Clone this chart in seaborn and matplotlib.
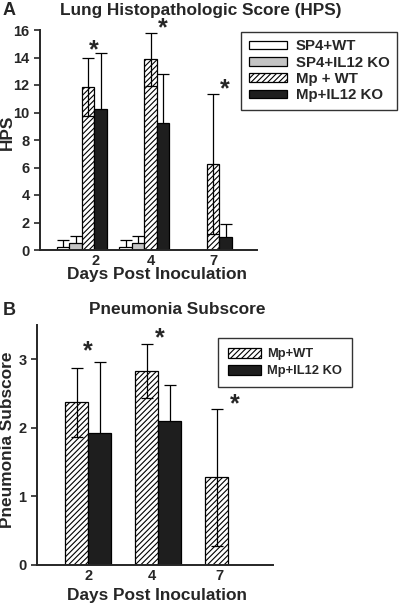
import numpy as np
import pandas as pd
import matplotlib
matplotlib.use("Agg")
import matplotlib.pyplot as plt
from matplotlib.patches import Patch
import seaborn as sns

# data
days = ["2", "4", "7"]

# panel A - lung histopathologic score
groups_a = ["SP4+WT", "SP4+IL12 KO", "Mp + WT", "Mp+IL12 KO"]
sp4_wt = [0.2, 0.2, 0.0]
sp4_wt_err = [0.55, 0.55, 0.0]
sp4_ko = [0.5, 0.5, 0.0]
sp4_ko_err = [0.55, 0.55, 0.0]
mp_wt = [11.85, 13.87, 6.23]
mp_wt_err = [2.1, 1.94, 5.1]
mp_ko = [10.23, 9.21, 0.97]
mp_ko_err = [4.07, 3.57, 0.93]
stars_a = [14.5, 16.1, 11.7]

# panel B - pneumonia subscore
groups_b = ["Mp+WT", "Mp+IL12 KO"]
pn_wt = [2.37, 2.83, 1.28]
pn_wt_err = [0.5, 0.4, 1.0]
pn_ko = [1.92, 2.10, 0.0]
pn_ko_err = [1.04, 0.52, 0.0]
stars_b = [3.12, 3.30, 2.35]

sns.set_style("ticks")
plt.rcParams["font.family"] = ["Liberation Sans", "DejaVu Sans"]
plt.rcParams["font.weight"] = "bold"
plt.rcParams["hatch.linewidth"] = 0.8

# err_top: error bar drawn over the bar (hatched) or hidden behind it (solid)
styles_a = [dict(facecolor="white", hatch=None, err_top=False),
            dict(facecolor="#c4c4c4", hatch=None, err_top=False),
            dict(facecolor="white", hatch="//////", err_top=True),
            dict(facecolor="#1e1e1e", hatch=None, err_top=False)]
styles_b = [styles_a[2], styles_a[3]]


def long_df(groups, values, errs):
    rows = []
    for g, v, e in zip(groups, values, errs):
        for d, vv, ee in zip(days, v, e):
            rows.append({"day": d, "group": g, "value": vv, "err": ee})
    return pd.DataFrame(rows)


def draw(ax, df, groups, styles, width):
    sns.barplot(data=df, x="day", y="value", hue="group", hue_order=groups,
                order=days, errorbar=None, width=width, ax=ax, legend=False,
                edgecolor="black", linewidth=0.9)
    for cont, g, st in zip(ax.containers, groups, styles):
        sub = df[df["group"] == g].set_index("day").loc[days]
        xs = []
        for p in cont.patches:
            p.set_facecolor(st["facecolor"])
            p.set_edgecolor("black")
            p.set_zorder(2)
            if st["hatch"]:
                p.set_hatch(st["hatch"])
            xs.append(p.get_x() + p.get_width() / 2)
        xs = np.array(xs)
        vals = sub["value"].values
        errs = sub["err"].values
        keep = errs > 0
        ax.errorbar(xs[keep], vals[keep], yerr=errs[keep], fmt="none",
                    ecolor="black", elinewidth=0.9, capsize=4, capthick=0.9,
                    zorder=3 if st["err_top"] else 1)
    sns.despine(ax=ax)
    for s in ["left", "bottom"]:
        ax.spines[s].set_linewidth(1.4)
        ax.spines[s].set_zorder(4)
    ax.tick_params(axis="x", length=0, labelsize=10.5, pad=3)
    ax.tick_params(axis="y", length=4, width=1.2, labelsize=10.5)
    for lab in ax.get_xticklabels() + ax.get_yticklabels():
        lab.set_fontweight("bold")


def handles(groups, styles):
    return [Patch(facecolor=st["facecolor"], edgecolor="black",
                  hatch=st["hatch"], linewidth=0.9, label=g)
            for g, st in zip(groups, styles)]


fig = plt.figure(figsize=(4.0, 6.04), dpi=100)

# ---- panel A
axA = fig.add_axes([40 / 400, 1 - 250 / 604, 217 / 400, 220 / 604])
dfA = long_df(groups_a, [sp4_wt, sp4_ko, mp_wt, mp_ko],
              [sp4_wt_err, sp4_ko_err, mp_wt_err, mp_ko_err])
draw(axA, dfA, groups_a, styles_a, 0.8)
axA.set_ylim(0, 16)
axA.set_yticks(range(0, 17, 2))
axA.set_xlim(-0.67, 2.8)
axA.set_xticks([0.22, 1.1, 2.1])
axA.set_xticklabels(days)
axA.set_xlabel("Days Post Inoculation", fontsize=12.4, fontweight="bold")
axA.xaxis.set_label_coords(0.54, -0.077)
axA.set_ylabel("HPS", fontsize=12.4, fontweight="bold")
axA.yaxis.set_label_coords(-0.115, 0.536)
for i, y in enumerate(stars_a):
    dx = [0.19, 0.3, 0.29][i]
    axA.text(i + dx, y, "*", ha="center", va="center", fontsize=18,
             fontweight="bold")

legA = fig.legend(handles=handles(groups_a, styles_a), loc="upper right",
                  bbox_to_anchor=(397 / 400, 1 - 32 / 604), borderaxespad=0,
                  frameon=True, fancybox=False, edgecolor="black",
                  handlelength=2.55, handleheight=0.5, labelspacing=0.15,
                  handletextpad=0.6, borderpad=0.5,
                  prop={"weight": "bold", "size": 10.8})
legA.get_frame().set_linewidth(1.0)

fig.text(3 / 400, 1 - 2 / 604, "A", fontsize=13, fontweight="bold",
         va="top", ha="left")
fig.text(201 / 400, 1 - 10 / 604, "Lung Histopathologic Score (HPS)",
         fontsize=12.4, fontweight="bold", ha="center", va="center")

# ---- panel B
axB = fig.add_axes([37 / 400, 1 - 565 / 604, 236 / 400, 240 / 604])
dfB = long_df(groups_b, [pn_wt, pn_ko], [pn_wt_err, pn_ko_err])
draw(axB, dfB, groups_b, styles_b, 0.65)
axB.set_ylim(0, 3.5)
axB.set_yticks([0, 1, 2, 3])
axB.set_xlim(-0.73, 2.64)
axB.set_xticks([0.0, 0.91, 1.87])
axB.set_xticklabels(days)
axB.set_xlabel("Days Post Inoculation", fontsize=12.4, fontweight="bold")
axB.xaxis.set_label_coords(0.508, -0.096)
axB.set_ylabel("Pneumonia Subscore", fontsize=12.4, fontweight="bold")
axB.yaxis.set_label_coords(-0.093, 0.52)
for i, y in enumerate(stars_b):
    dx = [0.0, 0.03, 0.09][i]
    axB.text(i + dx, y, "*", ha="center", va="center", fontsize=18,
             fontweight="bold")

legB = fig.legend(handles=handles(groups_b, styles_b), loc="upper right",
                  bbox_to_anchor=(352 / 400, 1 - 338 / 604), borderaxespad=0,
                  frameon=True, fancybox=False, edgecolor="black",
                  handlelength=2.55, handleheight=0.8, labelspacing=0.35,
                  handletextpad=0.5, borderpad=0.75,
                  prop={"weight": "bold", "size": 9.3})
legB.get_frame().set_linewidth(1.0)

fig.text(3 / 400, 1 - 302 / 604, "B", fontsize=13, fontweight="bold",
         va="top", ha="left")
fig.text(177 / 400, 1 - 309 / 604, "Pneumonia Subscore",
         fontsize=12.4, fontweight="bold", ha="center", va="center")

fig.savefig("out.png", dpi=100, facecolor="white")
